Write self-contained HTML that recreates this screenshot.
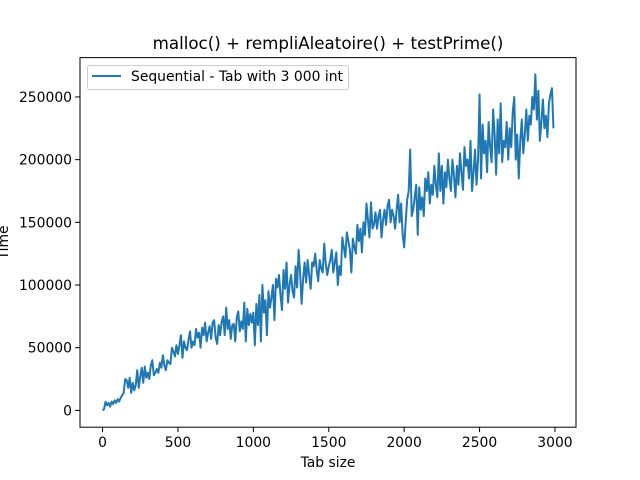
<!DOCTYPE html>
<html><head><meta charset="utf-8"><style>
html,body{margin:0;padding:0;background:#fff;}
svg{display:block;font-family:"DejaVu Sans","Liberation Sans",sans-serif;}
</style></head><body>
<svg id="chart" width="640" height="480" viewBox="0 0 640 480"></svg>
<script>
const xStart = 0, xStep = 10;
const timeValuesK = [
0,1,7,4,6,3,7,5,8,6,
9,7,10,12,14,25,24,18,26,14,
22,16,20,32,18,27,34,22,35,26,
30,25,36,40,28,30,33,30,38,34,
44,36,32,40,38,37,50,47,43,52,
45,52,60,42,55,50,48,56,63,50,
55,52,65,58,62,50,66,60,70,55,
62,67,57,70,72,58,53,68,60,71,
75,60,82,65,72,57,68,69,55,74,
79,63,71,65,86,55,81,68,77,70,
78,52,85,68,92,55,100,78,88,60,
95,82,90,100,72,105,98,108,92,80,
112,97,118,86,100,108,95,90,115,98,
128,110,85,105,118,102,120,108,97,118,
115,125,112,103,120,113,110,133,117,108,
115,120,128,110,118,126,100,115,108,138,
130,122,142,135,128,110,137,130,125,148,
135,145,126,150,140,165,152,138,166,145,
148,158,145,155,160,138,152,160,148,163,
168,150,160,155,145,160,172,150,165,140,
130,150,168,175,208,155,160,170,180,140,
178,160,170,155,185,175,190,165,180,172,
195,180,170,205,175,195,165,190,178,200,
185,175,200,188,170,195,180,205,190,176,
210,195,200,185,215,175,190,208,180,200,
252,185,228,205,215,190,230,210,198,240,
220,188,232,205,245,198,215,210,230,200,
225,210,238,250,200,220,185,215,232,205,
220,240,215,235,228,250,240,268,232,255,
215,230,248,225,235,218,245,252,257,225];
const xTicks = [0,500,1000,1500,2000,2500,3000];
const yTicks = [0,50000,100000,150000,200000,250000];

const NS = "http://www.w3.org/2000/svg";
const svg = document.getElementById('chart');
const L=80,R=576,T=57.6,B=427.2;
const xs = timeValuesK.map((v,i)=>xStart+i*xStep);
const ys = timeValuesK.map(v=>v*1000);
const xmin0=Math.min(...xs), xmax0=Math.max(...xs), xr=xmax0-xmin0;
const ymin0=Math.min(...ys), ymax0=Math.max(...ys), yr=ymax0-ymin0;
const xmin=xmin0-0.05*xr, xmax=xmax0+0.05*xr, ymin=ymin0-0.05*yr, ymax=ymax0+0.05*yr;
const sx = v=>L+(v-xmin)/(xmax-xmin)*(R-L);
const sy = v=>B-(v-ymin)/(ymax-ymin)*(B-T);
function mk(tag,attrs,parent){const e=document.createElementNS(NS,tag);for(const k in attrs)e.setAttribute(k,attrs[k]);(parent||svg).appendChild(e);return e;}

const title = mk('text',{x:(L+R)/2,y:49,'text-anchor':'middle','font-size':'16.7',fill:'#000'});


title.textContent='malloc() + rempliAleatoire() + testPrime()';

const line = mk('polyline',{points:xs.map((x,i)=>sx(x).toFixed(2)+','+sy(ys[i]).toFixed(2)).join(' '),fill:'none',stroke:'#1f77b4','stroke-width':'2','stroke-linejoin':'round'});



const frame = mk('rect',{x:L,y:T,width:R-L,height:B-T,fill:'none',stroke:'#000','stroke-width':'1'});



xTicks.forEach(t=>{
  const x=sx(t);
  const tk=mk('line',{x1:x,x2:x,y1:B,y2:B+4.9,stroke:'#000','stroke-width':'1'});
  
  
  const lb=mk('text',{x:x,y:B+20,'text-anchor':'middle','font-size':'13.9',fill:'#000'});
  
  
  lb.textContent=t;
});
yTicks.forEach(t=>{
  const y=sy(t);
  const tk=mk('line',{x1:L-4.9,x2:L,y1:y,y2:y,stroke:'#000','stroke-width':'1'});
  
  
  const lb=mk('text',{x:L-8,y:y+5,'text-anchor':'end','font-size':'13.9',fill:'#000'});
  
  
  lb.textContent=t;
});

const xl=mk('text',{x:(L+R)/2,y:467,'text-anchor':'middle','font-size':'13.9',fill:'#000'});


xl.textContent='Tab size';
const yl=mk('text',{x:0,y:0,'text-anchor':'middle','font-size':'13.9',fill:'#000',transform:'translate(8,'+((T+B)/2)+') rotate(-90)'});


yl.textContent='Time';

const lg=mk('g',{});


mk('rect',{x:87.5,y:65.5,width:261,height:24,rx:2,fill:'#fff','fill-opacity':'0.8',stroke:'#ccc','stroke-width':'1'},lg);
const ll=mk('line',{x1:92,x2:121,y1:76,y2:76,stroke:'#1f77b4','stroke-width':'2'},lg);


const lt=mk('text',{x:131,y:81,'font-size':'13.9',fill:'#000'},lg);


lt.textContent='Sequential - Tab with 3 000 int';
</script>
</body></html>
